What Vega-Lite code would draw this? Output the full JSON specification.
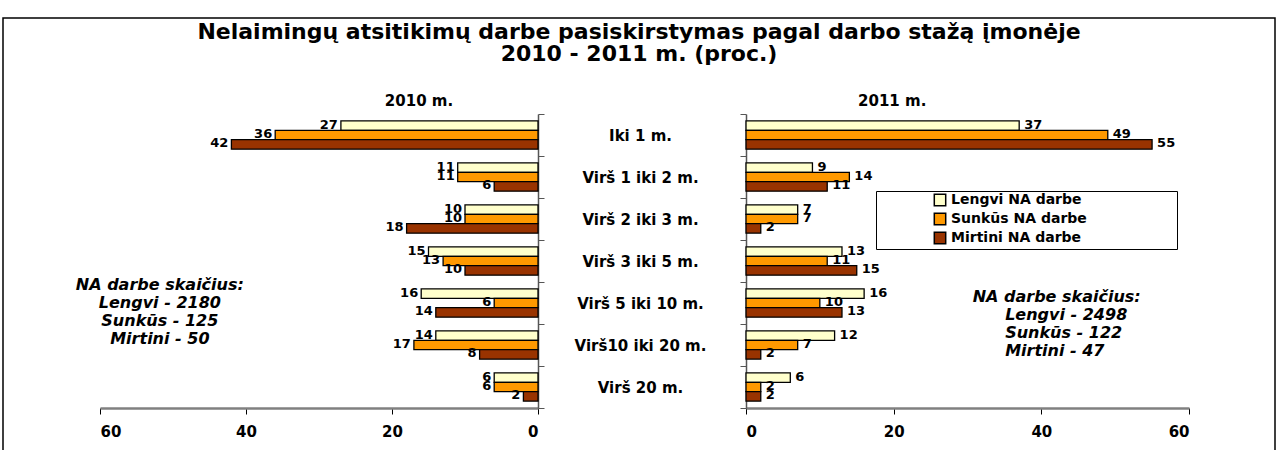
{
  "$schema": "https://vega.github.io/schema/vega-lite/v6.json",
  "width": 1272,
  "height": 440,
  "autosize": "none",
  "padding": {"left": 3, "top": 18, "right": 5, "bottom": 0},
  "background": "white",
  "config": {"view": {"stroke": "black", "strokeWidth": 1.5}, "axis": {"grid": false}},
  "title": {
    "text": ["Nelaimingų atsitikimų darbe pasiskirstymas pagal darbo stažą įmonėje", "2010 - 2011 m. (proc.)"],
    "font": "DejaVu Sans", "fontSize": 22, "fontWeight": "bold", "lineHeight": 22,
    "anchor": "middle", "offset": -55, "color": "black"
  },
  "datasets": {
    "d": [
      {"year": 2010, "cat": "Iki 1 m.", "type": "Lengvi NA darbe", "value": 27},
      {"year": 2010, "cat": "Iki 1 m.", "type": "Sunkūs NA darbe", "value": 36},
      {"year": 2010, "cat": "Iki 1 m.", "type": "Mirtini NA darbe", "value": 42},
      {"year": 2010, "cat": "Virš 1 iki 2 m.", "type": "Lengvi NA darbe", "value": 11},
      {"year": 2010, "cat": "Virš 1 iki 2 m.", "type": "Sunkūs NA darbe", "value": 11},
      {"year": 2010, "cat": "Virš 1 iki 2 m.", "type": "Mirtini NA darbe", "value": 6},
      {"year": 2010, "cat": "Virš 2 iki 3 m.", "type": "Lengvi NA darbe", "value": 10},
      {"year": 2010, "cat": "Virš 2 iki 3 m.", "type": "Sunkūs NA darbe", "value": 10},
      {"year": 2010, "cat": "Virš 2 iki 3 m.", "type": "Mirtini NA darbe", "value": 18},
      {"year": 2010, "cat": "Virš 3 iki 5 m.", "type": "Lengvi NA darbe", "value": 15},
      {"year": 2010, "cat": "Virš 3 iki 5 m.", "type": "Sunkūs NA darbe", "value": 13},
      {"year": 2010, "cat": "Virš 3 iki 5 m.", "type": "Mirtini NA darbe", "value": 10},
      {"year": 2010, "cat": "Virš 5 iki 10 m.", "type": "Lengvi NA darbe", "value": 16},
      {"year": 2010, "cat": "Virš 5 iki 10 m.", "type": "Sunkūs NA darbe", "value": 6},
      {"year": 2010, "cat": "Virš 5 iki 10 m.", "type": "Mirtini NA darbe", "value": 14},
      {"year": 2010, "cat": "Virš10 iki 20 m.", "type": "Lengvi NA darbe", "value": 14},
      {"year": 2010, "cat": "Virš10 iki 20 m.", "type": "Sunkūs NA darbe", "value": 17},
      {"year": 2010, "cat": "Virš10 iki 20 m.", "type": "Mirtini NA darbe", "value": 8},
      {"year": 2010, "cat": "Virš 20 m.", "type": "Lengvi NA darbe", "value": 6},
      {"year": 2010, "cat": "Virš 20 m.", "type": "Sunkūs NA darbe", "value": 6},
      {"year": 2010, "cat": "Virš 20 m.", "type": "Mirtini NA darbe", "value": 2},
      {"year": 2011, "cat": "Iki 1 m.", "type": "Lengvi NA darbe", "value": 37},
      {"year": 2011, "cat": "Iki 1 m.", "type": "Sunkūs NA darbe", "value": 49},
      {"year": 2011, "cat": "Iki 1 m.", "type": "Mirtini NA darbe", "value": 55},
      {"year": 2011, "cat": "Virš 1 iki 2 m.", "type": "Lengvi NA darbe", "value": 9},
      {"year": 2011, "cat": "Virš 1 iki 2 m.", "type": "Sunkūs NA darbe", "value": 14},
      {"year": 2011, "cat": "Virš 1 iki 2 m.", "type": "Mirtini NA darbe", "value": 11},
      {"year": 2011, "cat": "Virš 2 iki 3 m.", "type": "Lengvi NA darbe", "value": 7},
      {"year": 2011, "cat": "Virš 2 iki 3 m.", "type": "Sunkūs NA darbe", "value": 7},
      {"year": 2011, "cat": "Virš 2 iki 3 m.", "type": "Mirtini NA darbe", "value": 2},
      {"year": 2011, "cat": "Virš 3 iki 5 m.", "type": "Lengvi NA darbe", "value": 13},
      {"year": 2011, "cat": "Virš 3 iki 5 m.", "type": "Sunkūs NA darbe", "value": 11},
      {"year": 2011, "cat": "Virš 3 iki 5 m.", "type": "Mirtini NA darbe", "value": 15},
      {"year": 2011, "cat": "Virš 5 iki 10 m.", "type": "Lengvi NA darbe", "value": 16},
      {"year": 2011, "cat": "Virš 5 iki 10 m.", "type": "Sunkūs NA darbe", "value": 10},
      {"year": 2011, "cat": "Virš 5 iki 10 m.", "type": "Mirtini NA darbe", "value": 13},
      {"year": 2011, "cat": "Virš10 iki 20 m.", "type": "Lengvi NA darbe", "value": 12},
      {"year": 2011, "cat": "Virš10 iki 20 m.", "type": "Sunkūs NA darbe", "value": 7},
      {"year": 2011, "cat": "Virš10 iki 20 m.", "type": "Mirtini NA darbe", "value": 2},
      {"year": 2011, "cat": "Virš 20 m.", "type": "Lengvi NA darbe", "value": 6},
      {"year": 2011, "cat": "Virš 20 m.", "type": "Sunkūs NA darbe", "value": 2},
      {"year": 2011, "cat": "Virš 20 m.", "type": "Mirtini NA darbe", "value": 2}
    ]
  },
  "layer": [
    {
      "layer": [
        {
          "data": {"name": "d"},
          "transform": [{"filter": "datum.year == 2010"}],
          "mark": {"type": "bar", "stroke": "black", "strokeWidth": 1.3},
          "encoding": {
            "x": {
              "field": "value", "type": "quantitative",
              "scale": {"domain": [0, 60], "range": [535, 97], "nice": false, "zero": true},
              "axis": {"orient": "bottom", "offset": -50, "values": [0, 20, 40, 60], "title": null,
                "domainColor": "#808080", "domainWidth": 2.5, "tickColor": "black", "tickSize": 6, "tickWidth": 1,
                "labelFont": "DejaVu Sans", "labelFontWeight": "bold", "labelFontSize": 15, "labelColor": "black", "labelPadding": 10}
            },
            "y": {
              "field": "cat", "type": "nominal",
              "scale": {"domain": ["Iki 1 m.", "Virš 1 iki 2 m.", "Virš 2 iki 3 m.", "Virš 3 iki 5 m.", "Virš 5 iki 10 m.", "Virš10 iki 20 m.", "Virš 20 m."], "range": [96, 390], "paddingInner": 0, "paddingOuter": 0},
              "axis": {"orient": "right", "offset": -737, "title": null, "labels": false, "tickBand": "extent",
                "domainColor": "#555555", "domainWidth": 1.5, "tickColor": "#555555", "tickSize": 6}
            },
            "yOffset": {"field": "type", "type": "nominal", "scale": {"domain": ["Lengvi NA darbe", "Sunkūs NA darbe", "Mirtini NA darbe"], "paddingInner": 0, "paddingOuter": 0.73}},
            "fill": {
              "field": "type", "type": "nominal",
              "scale": {"domain": ["Lengvi NA darbe", "Sunkūs NA darbe", "Mirtini NA darbe"], "range": ["#FFFFCC", "#FF9900", "#993300"]},
              "legend": {
                "orient": "none", "legendX": 873, "legendY": 173, "title": null, "direction": "vertical",
                "strokeColor": "black", "fillColor": "white", "padding": 2,
                "symbolType": "square", "symbolSize": 130, "symbolStrokeColor": "black", "symbolStrokeWidth": 1.5,
                "symbolOffset": 55, "labelFont": "DejaVu Sans", "labelFontWeight": "bold", "labelFontSize": 14,
                "labelColor": "black", "rowPadding": 1, "labelLimit": 400,
                "labelExpr": "datum.label + '\u00a0\u00a0\u00a0\u00a0\u00a0\u00a0\u00a0\u00a0\u00a0\u00a0\u00a0\u00a0\u00a0\u00a0\u00a0\u00a0\u00a0\u00a0\u200b'"
              }
            }
          }
        },
        {
          "data": {"name": "d"},
          "transform": [{"filter": "datum.year == 2010"}],
          "mark": {"type": "text", "align": "right", "baseline": "middle", "dx": -3, "dy": -1, "font": "DejaVu Sans", "fontWeight": "bold", "fontSize": 13, "color": "black"},
          "encoding": {
            "x": {
              "field": "value", "type": "quantitative",
              "scale": {"domain": [0, 60], "range": [535, 97], "nice": false, "zero": true},
              "axis": {"orient": "bottom", "offset": -50, "values": [0, 20, 40, 60], "title": null,
                "domainColor": "#808080", "domainWidth": 2.5, "tickColor": "black", "tickSize": 6, "tickWidth": 1,
                "labelFont": "DejaVu Sans", "labelFontWeight": "bold", "labelFontSize": 15, "labelColor": "black", "labelPadding": 10}
            },
            "y": {
              "field": "cat", "type": "nominal",
              "scale": {"domain": ["Iki 1 m.", "Virš 1 iki 2 m.", "Virš 2 iki 3 m.", "Virš 3 iki 5 m.", "Virš 5 iki 10 m.", "Virš10 iki 20 m.", "Virš 20 m."], "range": [96, 390], "paddingInner": 0, "paddingOuter": 0},
              "axis": {"orient": "right", "offset": -737, "title": null, "labels": false, "tickBand": "extent",
                "domainColor": "#555555", "domainWidth": 1.5, "tickColor": "#555555", "tickSize": 6}
            },
            "yOffset": {"field": "type", "type": "nominal", "scale": {"domain": ["Lengvi NA darbe", "Sunkūs NA darbe", "Mirtini NA darbe"], "paddingInner": 0, "paddingOuter": 0.73}},
            "text": {"field": "value", "type": "quantitative"}
          }
        },
        {
          "data": {"values": [{"label": "2010 m."}]},
          "mark": {"type": "text", "align": "center", "baseline": "middle", "dy": -34, "font": "DejaVu Sans", "fontWeight": "bold", "fontSize": 15, "color": "black"},
          "encoding": {
            "x": {
              "datum": 16.3, "type": "quantitative",
              "scale": {"domain": [0, 60], "range": [535, 97], "nice": false, "zero": true},
              "axis": {"orient": "bottom", "offset": -50, "values": [0, 20, 40, 60], "title": null,
                "domainColor": "#808080", "domainWidth": 2.5, "tickColor": "black", "tickSize": 6, "tickWidth": 1,
                "labelFont": "DejaVu Sans", "labelFontWeight": "bold", "labelFontSize": 15, "labelColor": "black", "labelPadding": 10}
            },
            "y": {
              "datum": "Iki 1 m.", "type": "nominal",
              "scale": {"domain": ["Iki 1 m.", "Virš 1 iki 2 m.", "Virš 2 iki 3 m.", "Virš 3 iki 5 m.", "Virš 5 iki 10 m.", "Virš10 iki 20 m.", "Virš 20 m."], "range": [96, 390], "paddingInner": 0, "paddingOuter": 0},
              "axis": {"orient": "right", "offset": -737, "title": null, "labels": false, "tickBand": "extent",
                "domainColor": "#555555", "domainWidth": 1.5, "tickColor": "#555555", "tickSize": 6}
            },
            "text": {"field": "label", "type": "nominal"}
          }
        },
        {
          "data": {"values": [{"label": "NA darbe skaičius:"}]},
          "mark": {"type": "text", "align": "center", "baseline": "middle", "dy": -18, "lineHeight": 18, "font": "DejaVu Sans", "fontWeight": "bold", "fontStyle": "italic", "fontSize": 16, "color": "black"},
          "encoding": {
            "x": {
              "datum": 51.8, "type": "quantitative",
              "scale": {"domain": [0, 60], "range": [535, 97], "nice": false, "zero": true},
              "axis": {"orient": "bottom", "offset": -50, "values": [0, 20, 40, 60], "title": null,
                "domainColor": "#808080", "domainWidth": 2.5, "tickColor": "black", "tickSize": 6, "tickWidth": 1,
                "labelFont": "DejaVu Sans", "labelFontWeight": "bold", "labelFontSize": 15, "labelColor": "black", "labelPadding": 10}
            },
            "y": {
              "datum": "Virš 5 iki 10 m.", "type": "nominal",
              "scale": {"domain": ["Iki 1 m.", "Virš 1 iki 2 m.", "Virš 2 iki 3 m.", "Virš 3 iki 5 m.", "Virš 5 iki 10 m.", "Virš10 iki 20 m.", "Virš 20 m."], "range": [96, 390], "paddingInner": 0, "paddingOuter": 0},
              "axis": {"orient": "right", "offset": -737, "title": null, "labels": false, "tickBand": "extent",
                "domainColor": "#555555", "domainWidth": 1.5, "tickColor": "#555555", "tickSize": 6}
            },
            "text": {"value": ["NA darbe skaičius:", "Lengvi - 2180", "Sunkūs - 125", "Mirtini  - 50"]}
          }
        }
      ]
    },
    {
      "layer": [
        {
          "data": {"name": "d"},
          "transform": [{"filter": "datum.year == 2011"}],
          "mark": {"type": "bar", "stroke": "black", "strokeWidth": 1.3},
          "encoding": {
            "x": {
              "field": "value", "type": "quantitative",
              "scale": {"domain": [0, 60], "range": [743, 1186], "nice": false, "zero": true},
              "axis": {"orient": "bottom", "offset": -50, "values": [0, 20, 40, 60], "title": null,
                "domainColor": "#808080", "domainWidth": 2.5, "tickColor": "black", "tickSize": 6, "tickWidth": 1,
                "labelFont": "DejaVu Sans", "labelFontWeight": "bold", "labelFontSize": 15, "labelColor": "black", "labelPadding": 10}
            },
            "y": {
              "field": "cat", "type": "nominal",
              "scale": {"domain": ["Iki 1 m.", "Virš 1 iki 2 m.", "Virš 2 iki 3 m.", "Virš 3 iki 5 m.", "Virš 5 iki 10 m.", "Virš10 iki 20 m.", "Virš 20 m."], "range": [96, 390], "paddingInner": 0, "paddingOuter": 0},
              "axis": {"orient": "left", "offset": -743, "title": null, "tickBand": "extent",
                "domainColor": "#555555", "domainWidth": 1.5, "tickColor": "#555555", "tickSize": 6,
                "labelAlign": "center", "labelBaseline": "middle", "labelPadding": 100, "labelDy": 2,
                "labelFont": "DejaVu Sans", "labelFontWeight": "bold", "labelFontSize": 15, "labelColor": "black", "labelLimit": 300}
            },
            "yOffset": {"field": "type", "type": "nominal", "scale": {"domain": ["Lengvi NA darbe", "Sunkūs NA darbe", "Mirtini NA darbe"], "paddingInner": 0, "paddingOuter": 0.73}},
            "fill": {"field": "type", "type": "nominal"}
          }
        },
        {
          "data": {"name": "d"},
          "transform": [{"filter": "datum.year == 2011"}],
          "mark": {"type": "text", "align": "left", "baseline": "middle", "dx": 5, "dy": -1, "font": "DejaVu Sans", "fontWeight": "bold", "fontSize": 13, "color": "black"},
          "encoding": {
            "x": {
              "field": "value", "type": "quantitative",
              "scale": {"domain": [0, 60], "range": [743, 1186], "nice": false, "zero": true},
              "axis": {"orient": "bottom", "offset": -50, "values": [0, 20, 40, 60], "title": null,
                "domainColor": "#808080", "domainWidth": 2.5, "tickColor": "black", "tickSize": 6, "tickWidth": 1,
                "labelFont": "DejaVu Sans", "labelFontWeight": "bold", "labelFontSize": 15, "labelColor": "black", "labelPadding": 10}
            },
            "y": {
              "field": "cat", "type": "nominal",
              "scale": {"domain": ["Iki 1 m.", "Virš 1 iki 2 m.", "Virš 2 iki 3 m.", "Virš 3 iki 5 m.", "Virš 5 iki 10 m.", "Virš10 iki 20 m.", "Virš 20 m."], "range": [96, 390], "paddingInner": 0, "paddingOuter": 0},
              "axis": {"orient": "left", "offset": -743, "title": null, "tickBand": "extent",
                "domainColor": "#555555", "domainWidth": 1.5, "tickColor": "#555555", "tickSize": 6,
                "labelAlign": "center", "labelBaseline": "middle", "labelPadding": 100, "labelDy": 2,
                "labelFont": "DejaVu Sans", "labelFontWeight": "bold", "labelFontSize": 15, "labelColor": "black", "labelLimit": 300}
            },
            "yOffset": {"field": "type", "type": "nominal", "scale": {"domain": ["Lengvi NA darbe", "Sunkūs NA darbe", "Mirtini NA darbe"], "paddingInner": 0, "paddingOuter": 0.73}},
            "text": {"field": "value", "type": "quantitative"}
          }
        },
        {
          "data": {"values": [{"label": "2011 m."}]},
          "mark": {"type": "text", "align": "center", "baseline": "middle", "dy": -34, "font": "DejaVu Sans", "fontWeight": "bold", "fontSize": 15, "color": "black"},
          "encoding": {
            "x": {
              "datum": 19.8, "type": "quantitative",
              "scale": {"domain": [0, 60], "range": [743, 1186], "nice": false, "zero": true},
              "axis": {"orient": "bottom", "offset": -50, "values": [0, 20, 40, 60], "title": null,
                "domainColor": "#808080", "domainWidth": 2.5, "tickColor": "black", "tickSize": 6, "tickWidth": 1,
                "labelFont": "DejaVu Sans", "labelFontWeight": "bold", "labelFontSize": 15, "labelColor": "black", "labelPadding": 10}
            },
            "y": {
              "datum": "Iki 1 m.", "type": "nominal",
              "scale": {"domain": ["Iki 1 m.", "Virš 1 iki 2 m.", "Virš 2 iki 3 m.", "Virš 3 iki 5 m.", "Virš 5 iki 10 m.", "Virš10 iki 20 m.", "Virš 20 m."], "range": [96, 390], "paddingInner": 0, "paddingOuter": 0},
              "axis": {"orient": "left", "offset": -743, "title": null, "tickBand": "extent",
                "domainColor": "#555555", "domainWidth": 1.5, "tickColor": "#555555", "tickSize": 6,
                "labelAlign": "center", "labelBaseline": "middle", "labelPadding": 100, "labelDy": 2,
                "labelFont": "DejaVu Sans", "labelFontWeight": "bold", "labelFontSize": 15, "labelColor": "black", "labelLimit": 300}
            },
            "text": {"field": "label", "type": "nominal"}
          }
        },
        {
          "data": {"values": [{"label": "NA darbe skaičius:"}]},
          "mark": {"type": "text", "align": "left", "baseline": "middle", "dy": -6, "font": "DejaVu Sans", "fontWeight": "bold", "fontStyle": "italic", "fontSize": 16, "color": "black"},
          "encoding": {
            "x": {
              "datum": 30.7, "type": "quantitative",
              "scale": {"domain": [0, 60], "range": [743, 1186], "nice": false, "zero": true},
              "axis": {"orient": "bottom", "offset": -50, "values": [0, 20, 40, 60], "title": null,
                "domainColor": "#808080", "domainWidth": 2.5, "tickColor": "black", "tickSize": 6, "tickWidth": 1,
                "labelFont": "DejaVu Sans", "labelFontWeight": "bold", "labelFontSize": 15, "labelColor": "black", "labelPadding": 10}
            },
            "y": {
              "datum": "Virš 5 iki 10 m.", "type": "nominal",
              "scale": {"domain": ["Iki 1 m.", "Virš 1 iki 2 m.", "Virš 2 iki 3 m.", "Virš 3 iki 5 m.", "Virš 5 iki 10 m.", "Virš10 iki 20 m.", "Virš 20 m."], "range": [96, 390], "paddingInner": 0, "paddingOuter": 0},
              "axis": {"orient": "left", "offset": -743, "title": null, "tickBand": "extent",
                "domainColor": "#555555", "domainWidth": 1.5, "tickColor": "#555555", "tickSize": 6,
                "labelAlign": "center", "labelBaseline": "middle", "labelPadding": 100, "labelDy": 2,
                "labelFont": "DejaVu Sans", "labelFontWeight": "bold", "labelFontSize": 15, "labelColor": "black", "labelLimit": 300}
            },
            "text": {"field": "label", "type": "nominal"}
          }
        },
        {
          "data": {"values": [{"label": "Lengvi - 2498"}]},
          "mark": {"type": "text", "align": "left", "baseline": "middle", "dy": 12, "lineHeight": 18, "font": "DejaVu Sans", "fontWeight": "bold", "fontStyle": "italic", "fontSize": 16, "color": "black"},
          "encoding": {
            "x": {
              "datum": 35.1, "type": "quantitative",
              "scale": {"domain": [0, 60], "range": [743, 1186], "nice": false, "zero": true},
              "axis": {"orient": "bottom", "offset": -50, "values": [0, 20, 40, 60], "title": null,
                "domainColor": "#808080", "domainWidth": 2.5, "tickColor": "black", "tickSize": 6, "tickWidth": 1,
                "labelFont": "DejaVu Sans", "labelFontWeight": "bold", "labelFontSize": 15, "labelColor": "black", "labelPadding": 10}
            },
            "y": {
              "datum": "Virš 5 iki 10 m.", "type": "nominal",
              "scale": {"domain": ["Iki 1 m.", "Virš 1 iki 2 m.", "Virš 2 iki 3 m.", "Virš 3 iki 5 m.", "Virš 5 iki 10 m.", "Virš10 iki 20 m.", "Virš 20 m."], "range": [96, 390], "paddingInner": 0, "paddingOuter": 0},
              "axis": {"orient": "left", "offset": -743, "title": null, "tickBand": "extent",
                "domainColor": "#555555", "domainWidth": 1.5, "tickColor": "#555555", "tickSize": 6,
                "labelAlign": "center", "labelBaseline": "middle", "labelPadding": 100, "labelDy": 2,
                "labelFont": "DejaVu Sans", "labelFontWeight": "bold", "labelFontSize": 15, "labelColor": "black", "labelLimit": 300}
            },
            "text": {"value": ["Lengvi - 2498", "Sunkūs - 122", "Mirtini  - 47"]}
          }
        }
      ]
    }
  ],
  "resolve": {"scale": {"x": "independent"}, "axis": {"x": "independent", "y": "independent"}}
}
